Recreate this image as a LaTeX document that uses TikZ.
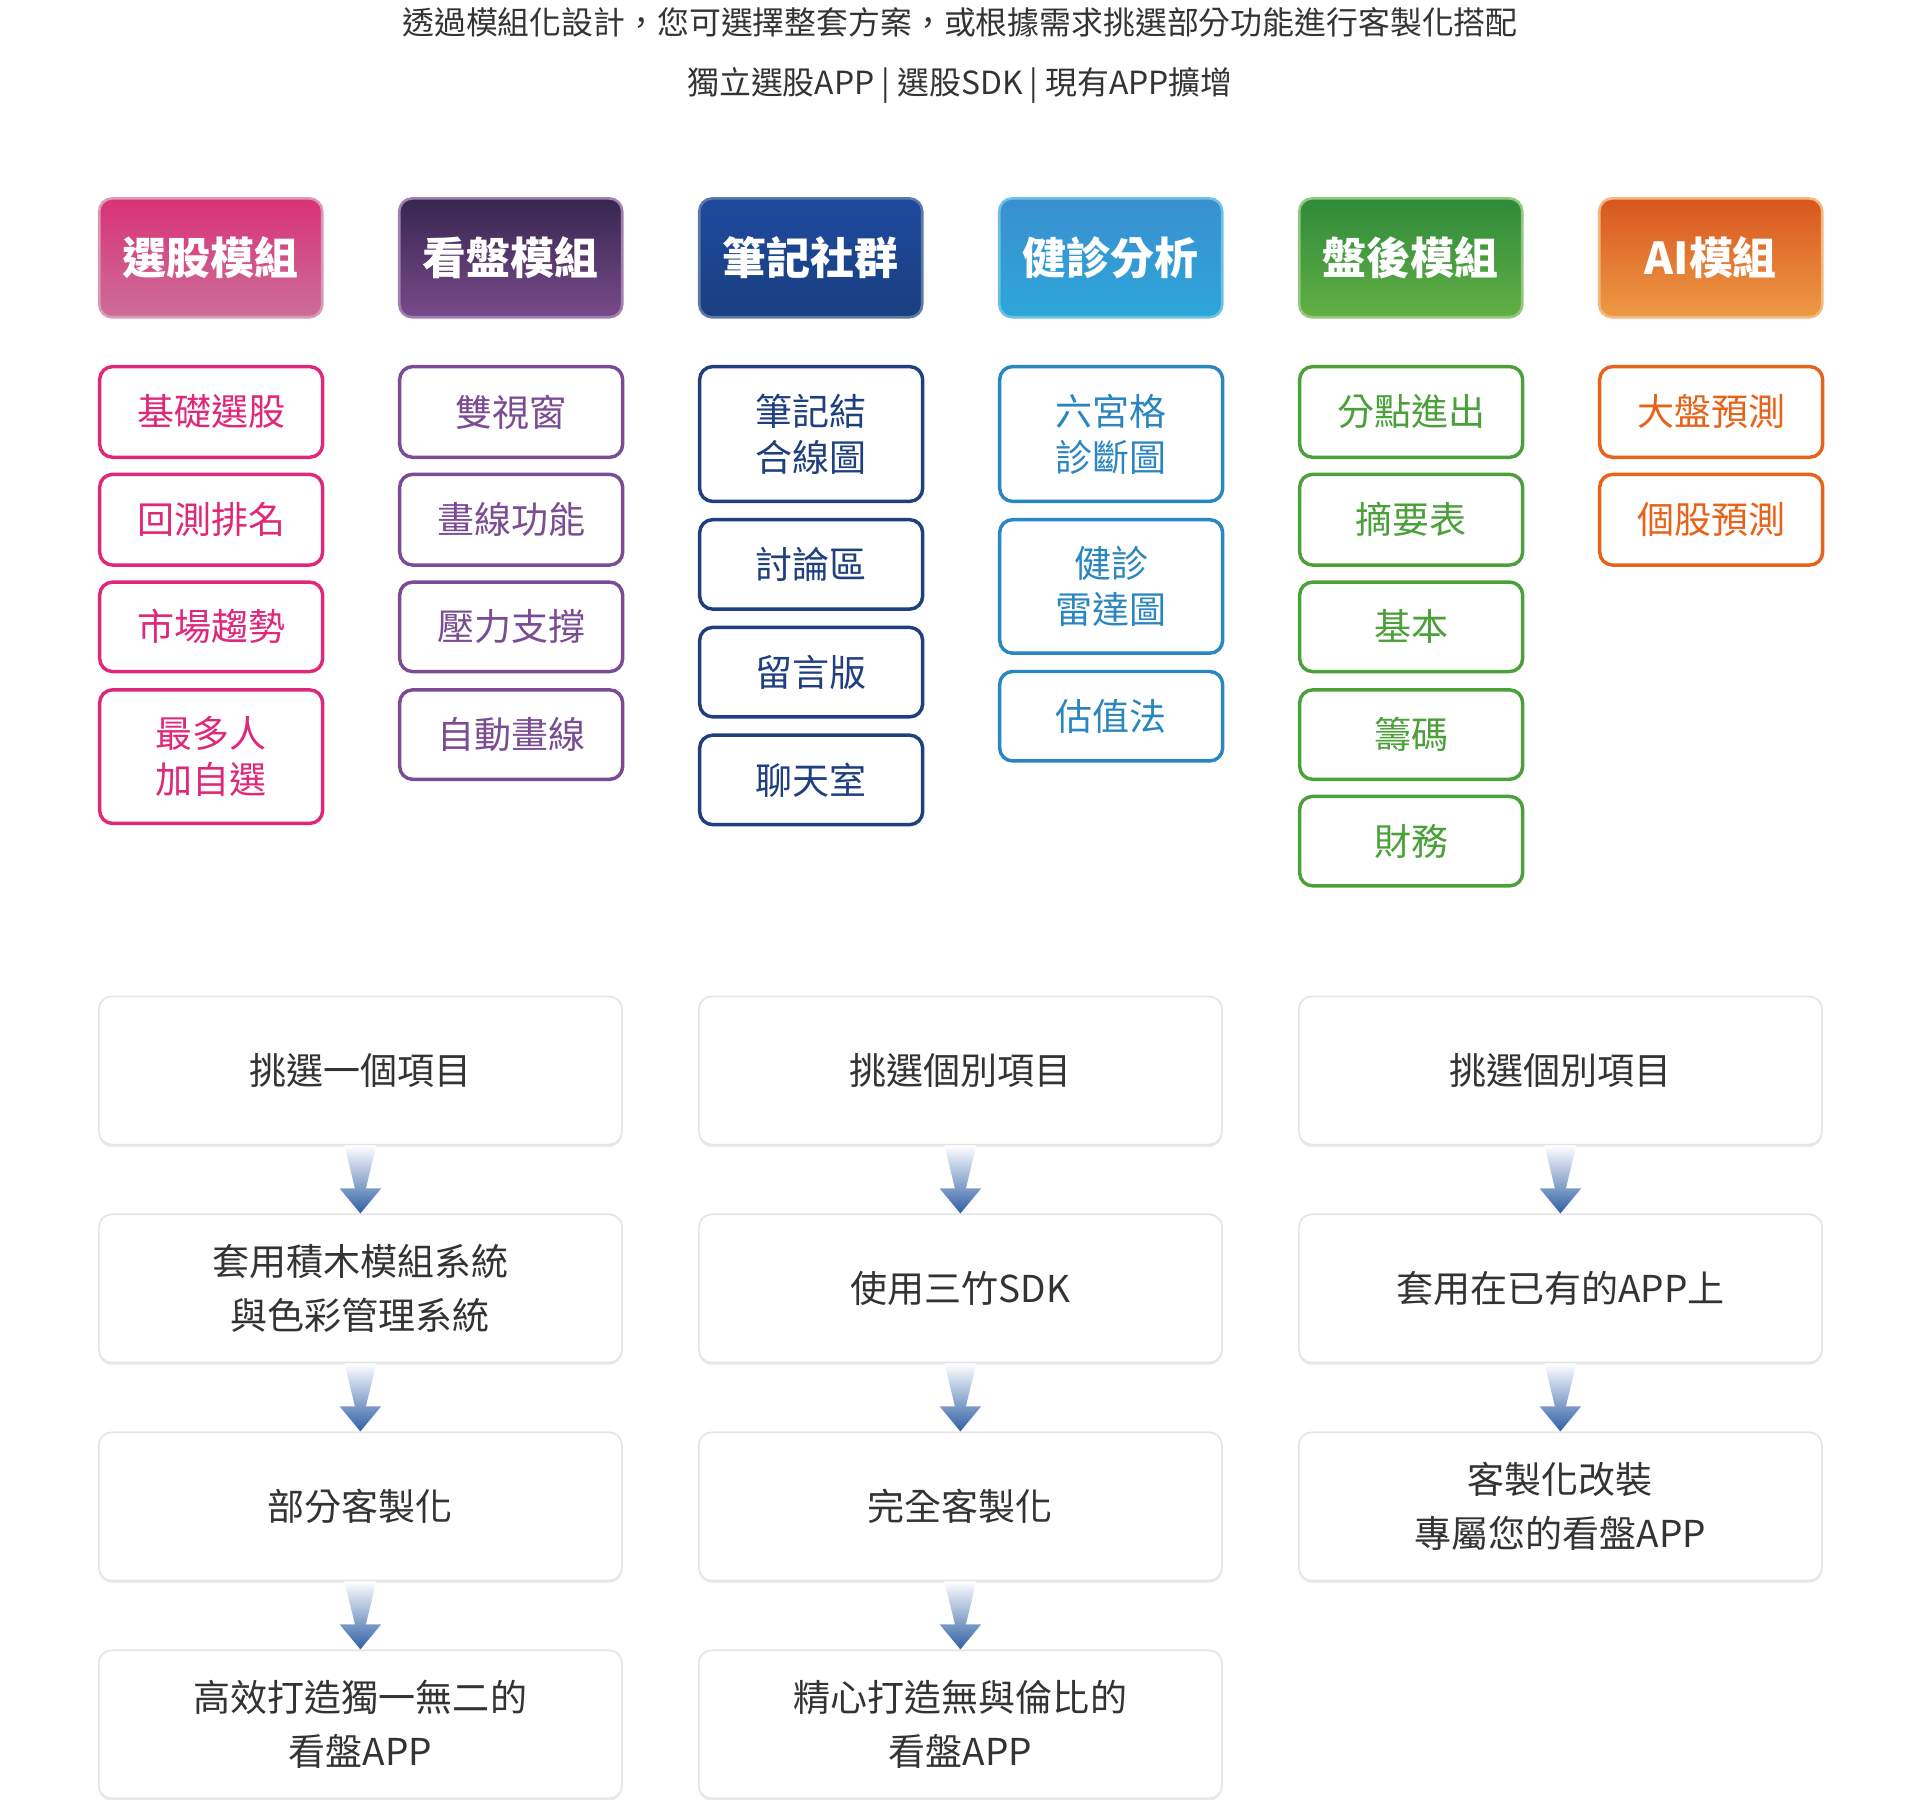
\documentclass[tikz,border=0pt]{standalone}
\usepackage{fontspec}
\setmainfont{Noto Sans CJK TC}
\usetikzlibrary{shadows}
\definecolor{cA}{HTML}{D93276}\definecolor{cAb}{HTML}{CC6E99}\definecolor{tA}{HTML}{E0287A}
\definecolor{cB}{HTML}{352750}\definecolor{cBb}{HTML}{7A4A8A}\definecolor{tB}{HTML}{7B4B93}
\definecolor{cC}{HTML}{1E4A9E}\definecolor{cCb}{HTML}{1A3F80}\definecolor{tC}{HTML}{1F3F7F}
\definecolor{cD}{HTML}{3A8FD0}\definecolor{cDb}{HTML}{2DA6D8}\definecolor{tD}{HTML}{2A86C0}
\definecolor{cE}{HTML}{2F8A3A}\definecolor{cEb}{HTML}{62B045}\definecolor{tE}{HTML}{4BA03A}
\definecolor{cF}{HTML}{D8561E}\definecolor{cFb}{HTML}{EE9A45}\definecolor{tF}{HTML}{E8631A}
\definecolor{txt}{HTML}{333333}\definecolor{arr}{HTML}{2F5FA5}
\begin{document}
\begin{tikzpicture}[x=0.01cm,y=-0.01cm,
 it/.style={draw=#1,line width=0.8pt,rounded corners=3pt,fill=white,text=#1,font=\fontsize{8.6}{10.6}\selectfont,anchor=north west,inner sep=0pt,align=center},
 bx/.style={draw=black!10,line width=0.4pt,rounded corners=3pt,fill=white,text=txt,font=\fontsize{8.6}{12.4}\selectfont,anchor=north west,inner sep=0pt,align=center,minimum width=4.27cm,minimum height=1.21cm,drop shadow={shadow xshift=0pt,shadow yshift=-0.6pt,opacity=0.15}},
]
\useasboundingbox (0,0) rectangle (1568,1470);
\node[font=\fontsize{7.4}{9}\selectfont,text=txt] (t1) at (784,18) {透過模組化設計，您可選擇整套方案，或根據需求挑選部分功能進行客製化搭配};
\node[font=\fontsize{7.4}{9}\selectfont,text=txt] (t2) at (784,70) {獨立選股APP | 選股SDK | 現有APP擴增};
% headers
\foreach \x/\c/\t [count=\i] in {80/A/選股模組,325/B/看盤模組,570/C/筆記社群,815/D/健診分析,1060/E/盤後模組,1305/F/AI模組}
 \node[draw=c\c b!70!white,line width=0.6pt,rounded corners=3pt,top color=c\c,bottom color=c\c b,text=white,font=\fontsize{10.2}{12}\selectfont\bfseries,minimum width=1.82cm,minimum height=0.97cm,anchor=north west,inner sep=0pt] (h\i) at (\x,161) {\t};
% items
\newcommand\itm[6]{\node[it=#4,minimum width=1.82cm,minimum height=#3cm] (#5) at (#1,#2) {#6};}
\itm{80}{298}{0.74}{tA}{a1}{基礎選股}
\itm{80}{386}{0.74}{tA}{a2}{回測排名}
\itm{80}{474}{0.73}{tA}{a3}{市場趨勢}
\itm{80}{562}{1.09}{tA}{a4}{最多人\\加自選}
\itm{325}{298}{0.74}{tB}{b1}{雙視窗}
\itm{325}{386}{0.74}{tB}{b2}{畫線功能}
\itm{325}{474}{0.73}{tB}{b3}{壓力支撐}
\itm{325}{562}{0.73}{tB}{b4}{自動畫線}
\itm{570}{298}{1.10}{tC}{c1}{筆記結\\合線圖}
\itm{570}{423}{0.73}{tC}{c2}{討論區}
\itm{570}{511}{0.73}{tC}{c3}{留言版}
\itm{570}{599}{0.73}{tC}{c4}{聊天室}
\itm{815}{298}{1.10}{tD}{d1}{六宮格\\診斷圖}
\itm{815}{423}{1.09}{tD}{d2}{健診\\雷達圖}
\itm{815}{547}{0.73}{tD}{d3}{估值法}
\itm{1060}{298}{0.74}{tE}{e1}{分點進出}
\itm{1060}{386}{0.74}{tE}{e2}{摘要表}
\itm{1060}{474}{0.73}{tE}{e3}{基本}
\itm{1060}{562}{0.73}{tE}{e4}{籌碼}
\itm{1060}{649}{0.73}{tE}{e5}{財務}
\itm{1305}{298}{0.74}{tF}{f1}{大盤預測}
\itm{1305}{386}{0.74}{tF}{f2}{個股預測}
% bottom boxes
\node[bx] (p1) at (80,813) {挑選一個項目};
\node[bx] (p2) at (80,991) {套用積木模組系統\\與色彩管理系統};
\node[bx] (p3) at (80,1169) {部分客製化};
\node[bx] (p4) at (80,1347) {高效打造獨一無二的\\看盤APP};
\node[bx] (q1) at (570,813) {挑選個別項目};
\node[bx] (q2) at (570,991) {使用三竹SDK};
\node[bx] (q3) at (570,1169) {完全客製化};
\node[bx] (q4) at (570,1347) {精心打造無與倫比的\\看盤APP};
\node[bx] (r1) at (1060,813) {挑選個別項目};
\node[bx] (r2) at (1060,991) {套用在已有的APP上};
\node[bx] (r3) at (1060,1169) {客製化改裝\\專屬您的看盤APP};
% arrows
\foreach \u/\v in {p1/p2,p2/p3,p3/p4,q1/q2,q2/q3,q3/q4,r1/r2,r2/r3}{
 \path (\u.south) coordinate (s);
 \shade[top color=white,bottom color=arr] ([xshift=-0.13cm]s) -- ([xshift=0.13cm]s) -- ([xshift=0.045cm,yshift=-0.35cm]s) -- ([xshift=0.17cm,yshift=-0.35cm]s) -- (\v.north) -- ([xshift=-0.17cm,yshift=-0.35cm]s) -- ([xshift=-0.045cm,yshift=-0.35cm]s) -- cycle;
}
\end{tikzpicture}
\end{document}
